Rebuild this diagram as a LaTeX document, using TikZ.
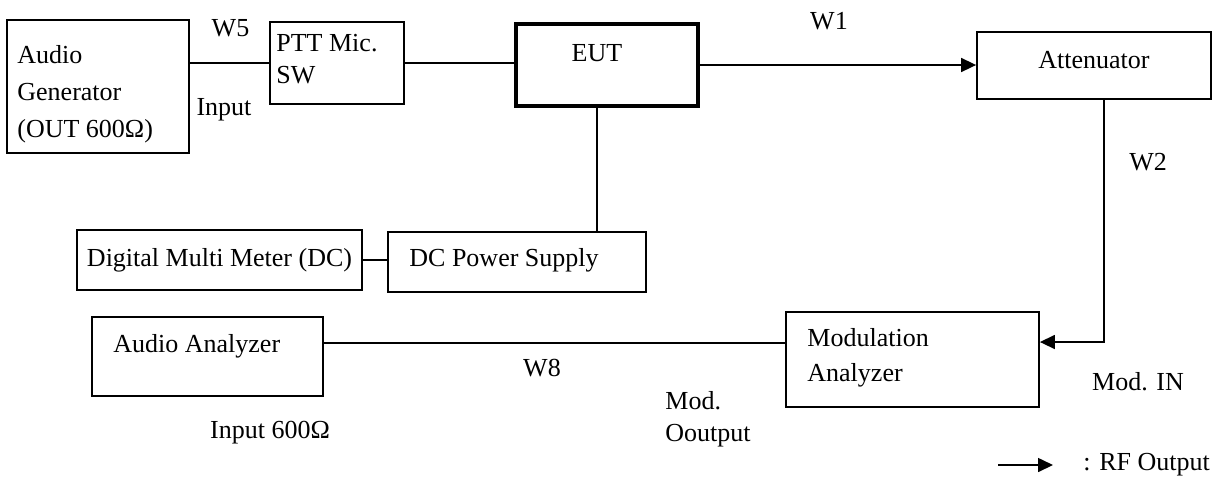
\documentclass[tikz,border=0pt]{standalone}
\usepackage{fontspec}
\setmainfont{Liberation Serif}
\usetikzlibrary{positioning,arrows.meta}

\begin{document}
\begin{tikzpicture}[x=0.5pt,y=-0.5pt,
  every node/.style={font=\fontsize{13}{16.5}\selectfont},
  blk/.style={draw,line width=0.9pt,inner sep=0pt},
  txt/.style={inner sep=0pt,align=left},
  wire/.style={line width=0.8pt},
  rf/.style={wire,-{Triangle[length=7.5pt,width=7pt]}}]
\useasboundingbox (0,0) rectangle (1218,489);
% equipment
\node[blk,minimum width=91pt,minimum height=66.5pt] (gen) at (98,86.5) {};
\node[blk,minimum width=67pt,minimum height=41pt] (ptt) at (337,63) {};
\node[blk,line width=2.2pt,minimum width=91pt,minimum height=41pt] (eut) at (607,65) {};
\node[blk,minimum width=117pt,minimum height=33.5pt] (att) at (1094,65.5) {};
\node[blk,minimum width=142.5pt,minimum height=30pt] (dmm) at (219.5,260) {Digital Multi Meter (DC)};
\node[blk,minimum width=129pt,minimum height=30pt] (dcps) at (517,262) {};
\node[blk,minimum width=115.5pt,minimum height=39.5pt] (aa) at (207.5,356.5) {};
\node[blk,minimum width=126.5pt,minimum height=47.5pt] (mod) at (912.5,359.5) {};
% box texts
\node[txt,anchor=west,font=\fontsize{13}{18.5}\selectfont] (gentxt) at (17,94) {Audio\\Generator\\(OUT 600Ω)};
\node[txt,anchor=west,font=\fontsize{13}{16}\selectfont] (ptttxt) at (276,59) {PTT Mic.\\SW};
\node[txt] (euttxt) at (597,53) {EUT};
\node[txt] (atttxt) at (1094,60) {Attenuator};
\node[txt,anchor=west] (dcpstxt) at (409,260) {DC Power Supply};
\node[txt,anchor=west] (aatxt) at (113,346) {Audio Analyzer};
\node[txt,anchor=west,font=\fontsize{13}{17.5}\selectfont] (modtxt) at (807,357.5) {Modulation\\Analyzer};
% cable labels
\node[txt] (w5) at (230.5,28.5) {W5};
\node[txt] (genin) at (224,110) {Input};
\node[txt] (w1) at (829,21) {W1};
\node[txt] (w2) at (1148,162) {W2};
\node[txt] (w8) at (542,368) {W8};
\node[txt] (aain) at (270,433) {Input 600Ω};
\node[txt,anchor=west,font=\fontsize{13}{16}\selectfont] (modout) at (665,419) {Mod.\\Ooutput};
\node[txt] (modin) at (1138,382) {Mod. IN};
% connections
\draw[wire] (gen.east |- ptt.west) -- (ptt.west);
\draw[wire] (ptt.east) -- (ptt.east -| eut.west);
\draw[rf] (eut.east) -- (eut.east -| att.west);
\draw[wire] ([xshift=-5pt]eut.south) -- ([xshift=-5pt]eut.south |- dcps.north);
\draw[wire] (dmm.east) -- (dmm.east -| dcps.west);
\draw[rf] ([xshift=5pt]att.south) |- ([yshift=8.75pt]mod.east);
\draw[wire] ([yshift=6.75pt]aa.east) -- ([yshift=6.75pt]aa.east -| mod.west);
% key
\coordinate (key0) at (998,465);
\coordinate (key1) at (1053,465);
\draw[rf] (key0) -- (key1);
\node[txt,anchor=west] (keytxt) at (1083,465) {: RF Output};
\end{tikzpicture}
\end{document}
